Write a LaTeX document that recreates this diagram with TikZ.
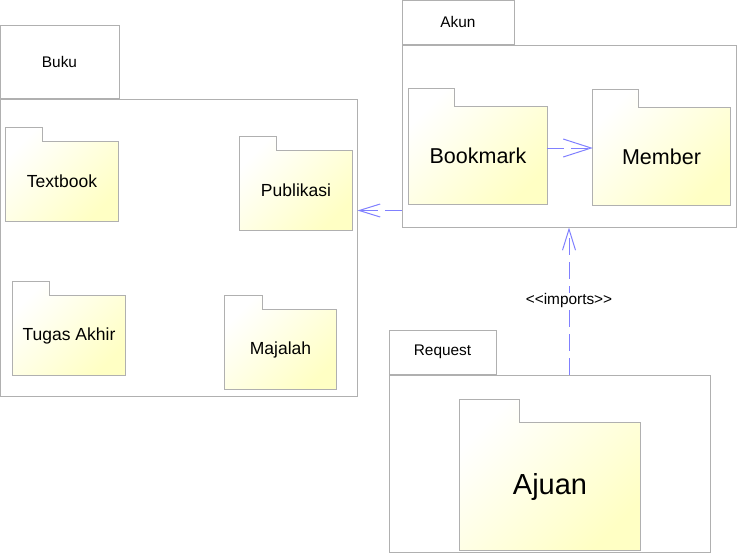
\documentclass[tikz,border=0pt]{standalone}
\usepackage{fontspec}
\setmainfont{Liberation Sans}
\usetikzlibrary{arrows.meta,backgrounds}
\definecolor{pkgline}{RGB}{176,176,176}
\definecolor{deparrow}{RGB}{128,128,255}
\definecolor{pkgyellow}{RGB}{255,255,196}
\tikzset{
  package/.style={draw=pkgline, line width=1pt, inner sep=0pt},
  pkgname/.style={font=\fontsize{15.4}{18}\selectfont},
  folder/.style={inner sep=0pt, font=\fontsize{17.5}{20}\selectfont},
  folderfill/.style={draw=pkgline, line width=1pt, top color=white, bottom color=pkgyellow, shading angle=45},
  dep/.style={draw=deparrow, line width=1pt, dash pattern=on 17pt off 7pt},
}
\begin{document}
\begin{tikzpicture}[x=1pt,y=-1pt]
    \useasboundingbox (0,0) rectangle (738,555);
    % outer packages
    \node[package, minimum width=357pt, minimum height=297pt] (buku) at (178.5,247.5) {};
    \node[package, pkgname, minimum width=119pt, minimum height=73pt, anchor=south west] (bukutab) at (buku.north west) {Buku};
    \node[package, minimum width=334pt, minimum height=182pt] (akun) at (569,136) {};
    \node[package, pkgname, minimum width=112pt, minimum height=44pt, anchor=south west] (akuntab) at (akun.north west) {Akun};
    \node[package, minimum width=321pt, minimum height=177pt] (request) at (549.5,463.5) {};
    \node[package, pkgname, minimum width=107pt, minimum height=44pt, anchor=south west] (requesttab) at (request.north west) {Request};
    % inner packages
    \node[folder, minimum width=112pt, minimum height=79pt] (textbook) at (62,181.5) {Textbook};
    \node[folder, minimum width=112pt, minimum height=79pt] (publikasi) at (296,190.5) {Publikasi};
    \node[folder, minimum width=112pt, minimum height=79pt] (tugasakhir) at (69,335.5) {Tugas Akhir};
    \node[folder, minimum width=111pt, minimum height=79pt] (majalah) at (280.5,349.5) {Majalah};
    \node[folder, font=\fontsize{21.5}{24}\selectfont, minimum width=138pt, minimum height=97pt] (bookmark) at (478,155.5) {Bookmark};
    \node[folder, font=\fontsize{21.5}{24}\selectfont, minimum width=137pt, minimum height=97pt] (member) at (661.5,156.5) {Member};
    \node[folder, font=\fontsize{29}{32}\selectfont, minimum width=180pt, minimum height=127pt] (ajuan) at (550,486.5) {Ajuan};
    \begin{scope}[on background layer]
      \foreach \n/\tw/\th in {textbook/37/14, publikasi/37/14, tugasakhir/37/14, majalah/38/14,
                              bookmark/46/18, member/46/18, ajuan/60/23}
        \path[folderfill] (\n.south west) -- ([yshift=\th pt]\n.north west)
          -- ([xshift=\tw pt, yshift=\th pt]\n.north west) -- ([xshift=\tw pt]\n.north west)
          -- (\n.north east) -- (\n.south east) -- cycle;
    \end{scope}
    % dependencies
    \coordinate (akunout) at ([yshift=17pt]akun.south west);
    \draw[dep, -{Straight Barb[length=21pt, width=13pt]}] (akunout) -- (akunout -| buku.east);
    \coordinate (bookmarkout) at ([yshift=7.5pt]bookmark.east);
    \draw[dep, -{Straight Barb[length=28pt, width=18pt]}] (bookmarkout) -- (bookmarkout -| member.west);
    \draw[dep, -{Straight Barb[length=21pt, width=13pt]}] (request.north -| akun.south) -- (akun.south)
      node[midway, fill=white, inner sep=1pt, pkgname] {<\kern0pt<imports>\kern0pt>};
\end{tikzpicture}
\end{document}
